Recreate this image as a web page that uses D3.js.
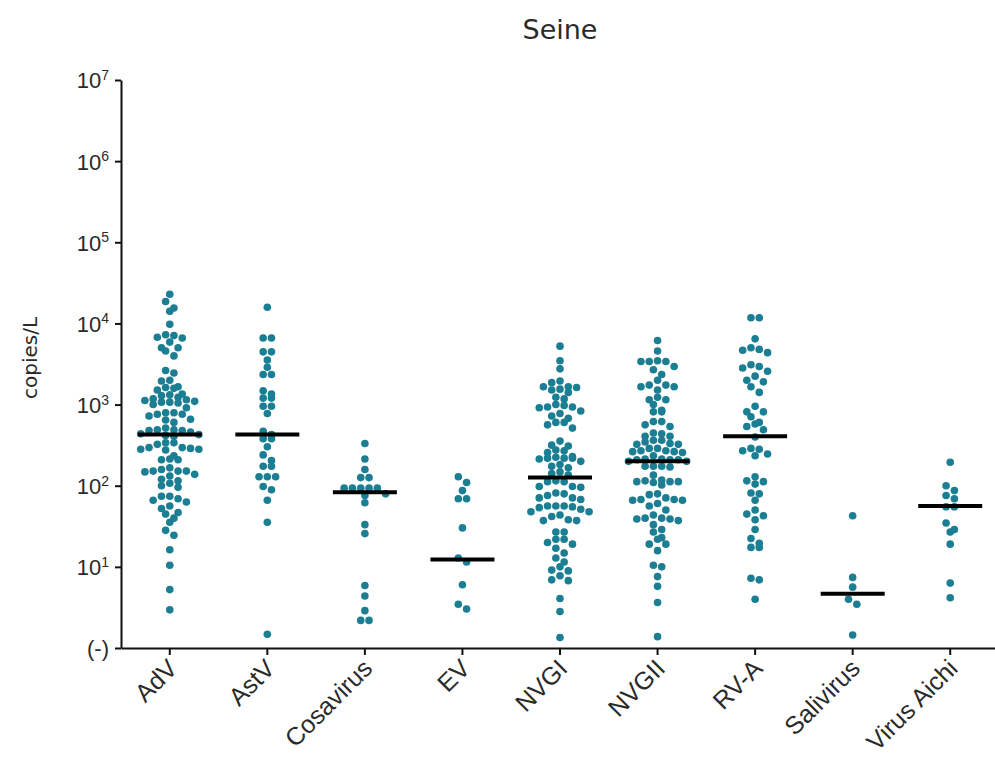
<!DOCTYPE html>
<html>
<head>
<meta charset="utf-8">
<script src="https://cdn.jsdelivr.net/npm/d3@7"></script>
<style>
  body { margin: 0; background: #fff; }
  svg { display: block; font-family: "DejaVu Sans", sans-serif; }
</style>
</head>
<body>
<svg id="chart" width="995" height="764"></svg>
<script>
const categories = ["AdV", "AstV", "Cosavirus", "EV", "NVGI", "NVGII", "RV-A", "Salivirus", "Virus Aichi"];

// every sample as log10(copies/L)
const AdV = [4.36, 4.27, 4.19, 4.15, 3.99, 3.86, 3.85, 3.83, 3.82, 3.77, 3.70, 3.70, 3.66, 3.60, 3.42, 3.39,
  3.30, 3.29, 3.22, 3.21, 3.20, 3.18, 3.13, 3.12, 3.11, 3.09, 3.07, 3.06, 3.05, 3.04, 3.03, 3.03, 3.02, 3.00,
  2.96, 2.90, 2.90, 2.88, 2.88, 2.86, 2.82, 2.81, 2.78, 2.71, 2.69, 2.69, 2.68, 2.68, 2.66, 2.64, 2.63, 2.62,
  2.61, 2.53, 2.53, 2.51, 2.47, 2.47, 2.46, 2.45, 2.45, 2.44, 2.37, 2.33, 2.32, 2.32, 2.22, 2.20, 2.18, 2.18,
  2.18, 2.17, 2.14, 2.12, 2.08, 2.06, 2.03, 2.00, 1.98, 1.87, 1.87, 1.84, 1.82, 1.80, 1.75, 1.72, 1.67, 1.65,
  1.60, 1.55, 1.45, 1.39, 1.21, 1.02, 0.72, 0.47];
const AstV = [4.20, 3.82, 3.82, 3.65, 3.65, 3.55, 3.46, 3.37, 3.37, 3.17, 3.13, 3.08, 3.08, 2.98, 2.98, 2.89,
  2.67, 2.63, 2.58, 2.58, 2.48, 2.38, 2.31, 2.24, 2.24, 2.11, 2.11, 2.11, 1.99, 1.95, 1.82, 1.55, 0.17];
const Cosavirus = [2.52, 2.33, 2.20, 2.10, 2.10, 1.97, 1.97, 1.97, 1.97, 1.97, 1.90, 1.88, 1.79, 1.52, 1.41,
  0.77, 0.64, 0.46, 0.34, 0.34];
const EV = [2.11, 2.04, 1.94, 1.84, 1.84, 1.48, 1.11, 1.06, 0.78, 0.54, 0.48];
const NVGI = [3.72, 3.54, 3.44, 3.29, 3.27, 3.22, 3.22, 3.21, 3.19, 3.18, 3.15, 3.09, 3.07, 3.00, 2.99, 2.97,
  2.97, 2.96, 2.92, 2.89, 2.86, 2.83, 2.78, 2.78, 2.75, 2.71, 2.55, 2.50, 2.49, 2.44, 2.43, 2.41, 2.36, 2.35,
  2.34, 2.34, 2.34, 2.33, 2.30, 2.26, 2.24, 2.22, 2.17, 2.15, 2.13, 2.06, 2.05, 2.05, 1.99, 1.99, 1.98, 1.91,
  1.90, 1.88, 1.85, 1.85, 1.83, 1.75, 1.75, 1.75, 1.74, 1.73, 1.71, 1.68, 1.68, 1.64, 1.62, 1.58, 1.57, 1.57,
  1.43, 1.43, 1.34, 1.34, 1.30, 1.28, 1.23, 1.17, 1.11, 1.06, 1.00, 0.96, 0.95, 0.89, 0.84, 0.83, 0.61, 0.45, 0.13];
const NVGII = [3.79, 3.66, 3.54, 3.53, 3.53, 3.53, 3.47, 3.43, 3.37, 3.30, 3.24, 3.24, 3.22, 3.22, 3.18, 3.09,
  3.06, 3.06, 3.00, 2.93, 2.91, 2.91, 2.79, 2.79, 2.75, 2.73, 2.65, 2.64, 2.61, 2.61, 2.56, 2.56, 2.54, 2.52,
  2.51, 2.51, 2.46, 2.46, 2.43, 2.43, 2.42, 2.42, 2.41, 2.37, 2.33, 2.33, 2.32, 2.32, 2.32, 2.30, 2.30, 2.24,
  2.24, 2.24, 2.23, 2.13, 2.07, 2.06, 2.05, 2.05, 2.05, 2.04, 2.01, 1.90, 1.89, 1.85, 1.83, 1.83, 1.82, 1.82,
  1.78, 1.75, 1.70, 1.64, 1.60, 1.60, 1.59, 1.59, 1.57, 1.52, 1.46, 1.43, 1.36, 1.34, 1.28, 1.28, 1.20, 1.02,
  1.00, 0.88, 0.76, 0.56, 0.14];
const RVA = [4.07, 4.07, 3.81, 3.70, 3.68, 3.67, 3.64, 3.49, 3.47, 3.45, 3.41, 3.35, 3.30, 3.28, 3.22, 3.15,
  2.98, 2.91, 2.91, 2.85, 2.78, 2.76, 2.73, 2.69, 2.60, 2.46, 2.45, 2.43, 2.39, 2.37, 2.11, 2.06, 2.05, 2.02,
  1.91, 1.90, 1.82, 1.70, 1.65, 1.63, 1.58, 1.46, 1.35, 1.29, 1.24, 1.24, 0.86, 0.84, 0.60];
const Salivirus = [1.63, 0.87, 0.75, 0.60, 0.54, 0.16];
const VirusAichi = [2.29, 2.00, 1.94, 1.88, 1.84, 1.74, 1.74, 1.54, 1.46, 1.43, 1.28, 0.80, 0.62];

const series = [AdV, AstV, Cosavirus, EV, NVGI, NVGII, RVA, Salivirus, VirusAichi];

// median bars as drawn, log10(copies/L)
const medians = [2.63, 2.63, 1.92, 1.09, 2.10, 2.30, 2.61, 0.67, 1.75];

// y tick exponents, 0 is the "(-)" row
const yTickExp = [0, 1, 2, 3, 4, 5, 6, 7];

const svg = d3.select("#chart");
const dotColor = "#1b7e93";
const textColor = "#2a2a2a";
const dotR = 3.8;
const step = 8.3;     // horizontal gap between dots in one row
const rowH = 6.6;     // points closer than this share a row

const x = d3.scaleBand().domain(categories).range([121, 999]);
const y = d3.scaleLog().domain([1, 1e7]).range([648, 80]);

svg.append("text")
    .attr("x", 560)
    .attr("y", 39)
    .attr("text-anchor", "middle")
    .attr("font-size", 27)
    .attr("fill", textColor)
    .text("Seine");

svg.append("text")
    .attr("transform", "translate(37,358) rotate(-90)")
    .attr("text-anchor", "middle")
    .attr("font-size", 20)
    .attr("fill", textColor)
    .text("copies/L");

// y axis
const yAxis = svg.append("g")
    .attr("transform", "translate(121,0)")
    .call(d3.axisLeft(y).tickValues(yTickExp.map(e => 10 ** e)).tickSize(6).tickSizeOuter(0).tickFormat(""));

yAxis.selectAll(".tick text").each(function(d) {
    const e = Math.round(Math.log10(d));
    const t = d3.select(this).attr("x", -12).attr("dy", "0.36em")
        .attr("font-size", 22).attr("fill", textColor);
    if (e === 0) {
        t.text("(-)");
    } else {
        t.text("10");
        t.append("tspan").attr("dy", "-0.6em").attr("font-size", 14).text(e);
    }
});

// x axis
const xAxis = svg.append("g")
    .attr("transform", "translate(0,648)")
    .call(d3.axisBottom(x).tickSize(7).tickSizeOuter(0));

xAxis.selectAll(".tick text")
    .attr("x", 0)
    .attr("y", 0)
    .attr("dy", 0)
    .attr("text-anchor", "end")
    .attr("transform", "translate(9,22) rotate(-45)")
    .attr("font-size", 25)
    .attr("fill", textColor);

svg.selectAll(".domain, .tick line").attr("stroke", "#111").attr("stroke-width", 2);

// prism style scatter: bin by height, centre each row
function swarm(vals, cx) {
    const pts = vals.map(v => ({ v: v, py: y(10 ** v) })).sort((a, b) => a.py - b.py);
    const rows = [];
    pts.forEach(p => {
        const row = rows[rows.length - 1];
        if (row && p.py - row[0].py < rowH) row.push(p);
        else rows.push([p]);
    });
    rows.forEach(row => {
        const n = row.length;
        const slots = d3.range(n).map(i => (i - (n - 1) / 2) * step)
            .sort((a, b) => Math.abs(a) - Math.abs(b) || a - b);
        row.forEach((p, i) => { p.px = cx + slots[i]; });
    });
    return pts;
}

const groups = svg.append("g").attr("class", "dots")
    .selectAll("g")
    .data(categories)
    .join("g");

groups.each(function(c, i) {
    const cx = x(c) + x.bandwidth() / 2;
    d3.select(this).selectAll("circle")
        .data(swarm(series[i], cx))
        .join("circle")
        .attr("cx", d => d.px)
        .attr("cy", d => d.py)
        .attr("r", dotR)
        .attr("fill", dotColor);
});

svg.append("g").attr("class", "medians")
    .selectAll("line")
    .data(categories)
    .join("line")
    .attr("x1", (c) => x(c) + x.bandwidth() / 2 - 32)
    .attr("x2", (c) => x(c) + x.bandwidth() / 2 + 32)
    .attr("y1", (c, i) => y(10 ** medians[i]))
    .attr("y2", (c, i) => y(10 ** medians[i]))
    .attr("stroke", "#000")
    .attr("stroke-width", 4);
</script>
</body>
</html>
